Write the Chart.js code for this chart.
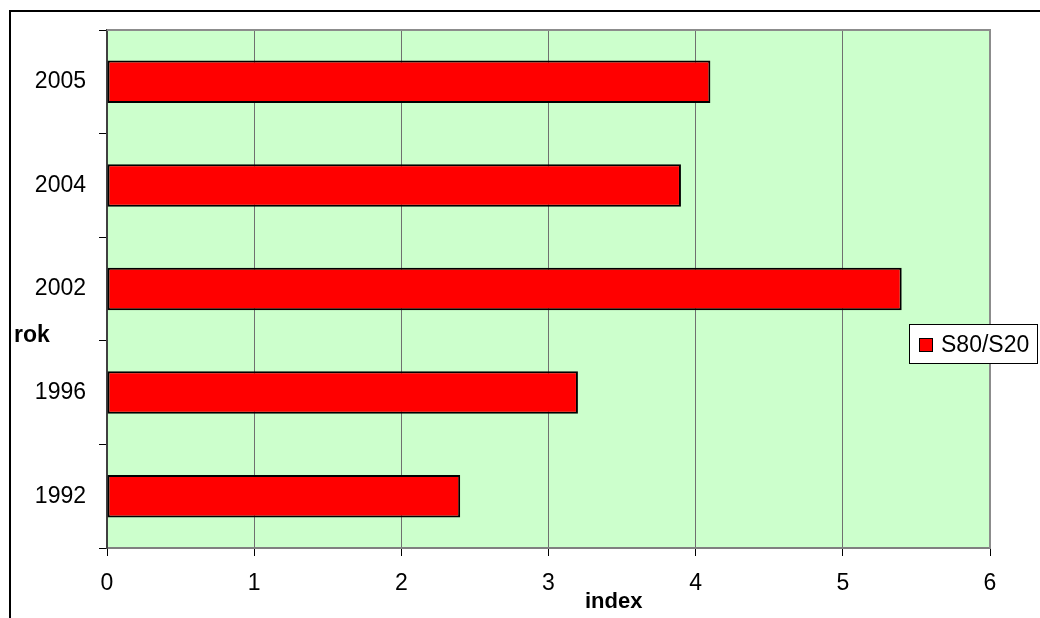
<!DOCTYPE html>
<html>
<head>
<meta charset="utf-8">
<script src="https://cdn.jsdelivr.net/npm/chart.js@4"></script>
<style>
  html, body { margin: 0; padding: 0; background: #fff; }
  #chart { display: block; }
</style>
</head>
<body>
<canvas id="chart" width="1040" height="618"></canvas>
<script>
// data
const years = ['2005', '2004', '2002', '1996', '1992'];
const ratioS80S20 = [4.1, 3.9, 5.4, 3.2, 2.4];
const indexTicks = [0, 1, 2, 3, 4, 5, 6];
const seriesName = 'S80/S20';
const xTitle = 'index';
const yTitle = 'rok';

const font = 'Arial, "Liberation Sans", sans-serif';

// background, plot border, outer frame, titles and legend (Excel look)
const excelLook = {
  id: 'excelLook',
  beforeDraw(chart) {
    const { ctx, chartArea: a } = chart;
    ctx.save();
    ctx.fillStyle = '#ffffff';
    ctx.fillRect(0, 0, chart.width, chart.height);
    ctx.fillStyle = '#ccffcc';
    ctx.fillRect(a.left, a.top, a.right - a.left, a.bottom - a.top);
    ctx.strokeStyle = '#000';
    ctx.lineWidth = 2;
    ctx.beginPath();
    ctx.moveTo(10, chart.height);
    ctx.lineTo(10, 11);
    ctx.lineTo(chart.width, 11);
    ctx.stroke();
    ctx.restore();
  },
  afterDraw(chart) {
    const { ctx, chartArea: a } = chart;
    const ds = chart.data.datasets[0];
    ctx.save();
    // plot area border (top / right)
    ctx.strokeStyle = '#8c8c8c';
    ctx.lineWidth = 2;
    ctx.beginPath();
    ctx.moveTo(a.left, a.top);
    ctx.lineTo(a.right, a.top);
    ctx.lineTo(a.right, a.bottom);
    ctx.stroke();

    // axis titles
    ctx.fillStyle = '#000';
    ctx.textBaseline = 'alphabetic';
    ctx.textAlign = 'left';
    ctx.font = 'bold 23px ' + font;
    ctx.fillText(yTitle, 14, 342);
    ctx.font = 'bold 22px ' + font;
    ctx.fillText(xTitle, 585, 608);

    // legend
    ctx.fillStyle = '#fff';
    ctx.fillRect(909.5, 324.5, 128, 39);
    ctx.strokeStyle = '#000';
    ctx.lineWidth = 1;
    ctx.strokeRect(909.5, 324.5, 128, 39);
    ctx.fillStyle = ds.backgroundColor;
    ctx.fillRect(919.5, 338.5, 13, 13);
    ctx.strokeRect(919.5, 338.5, 13, 13);
    ctx.fillStyle = '#000';
    ctx.font = '23px ' + font;
    ctx.fillText(ds.label, 941, 352);
    ctx.restore();
  }
};

new Chart(document.getElementById('chart'), {
  type: 'bar',
  data: {
    labels: years,
    datasets: [
      {
        label: seriesName,
        data: ratioS80S20,
        backgroundColor: '#ff0000',
        borderColor: '#000000',
        borderWidth: 2,
        borderSkipped: false,
        barPercentage: 0.41,
        categoryPercentage: 1.0
      }
    ]
  },
  options: {
    indexAxis: 'y',
    responsive: false,
    animation: false,
    layout: {
      padding: { left: 0, top: 30, right: 50, bottom: 0 }
    },
    plugins: {
      legend: { display: false },
      tooltip: { enabled: false }
    },
    scales: {
      x: {
        min: 0,
        max: 6,
        afterBuildTicks: (scale) => {
          scale.ticks = indexTicks.map(v => ({ value: v }));
        },
        afterFit: (scale) => { scale.height = 70; },
        grid: {
          color: '#707070',
          lineWidth: 1,
          drawTicks: true,
          tickLength: 8,
          tickColor: '#000'
        },
        border: { color: '#808080', width: 2 },
        ticks: {
          color: '#000',
          padding: 14,
          maxRotation: 0,
          font: { family: font, size: 23 }
        }
      },
      y: {
        afterFit: (scale) => { scale.width = 107; },
        grid: {
          offset: true,
          drawOnChartArea: false,
          drawTicks: true,
          tickLength: 8,
          tickColor: '#000'
        },
        border: { color: '#404040', width: 2 },
        ticks: {
          color: '#000',
          padding: 13,
          font: { family: font, size: 23 }
        }
      }
    }
  },
  plugins: [excelLook]
});
</script>
</body>
</html>
